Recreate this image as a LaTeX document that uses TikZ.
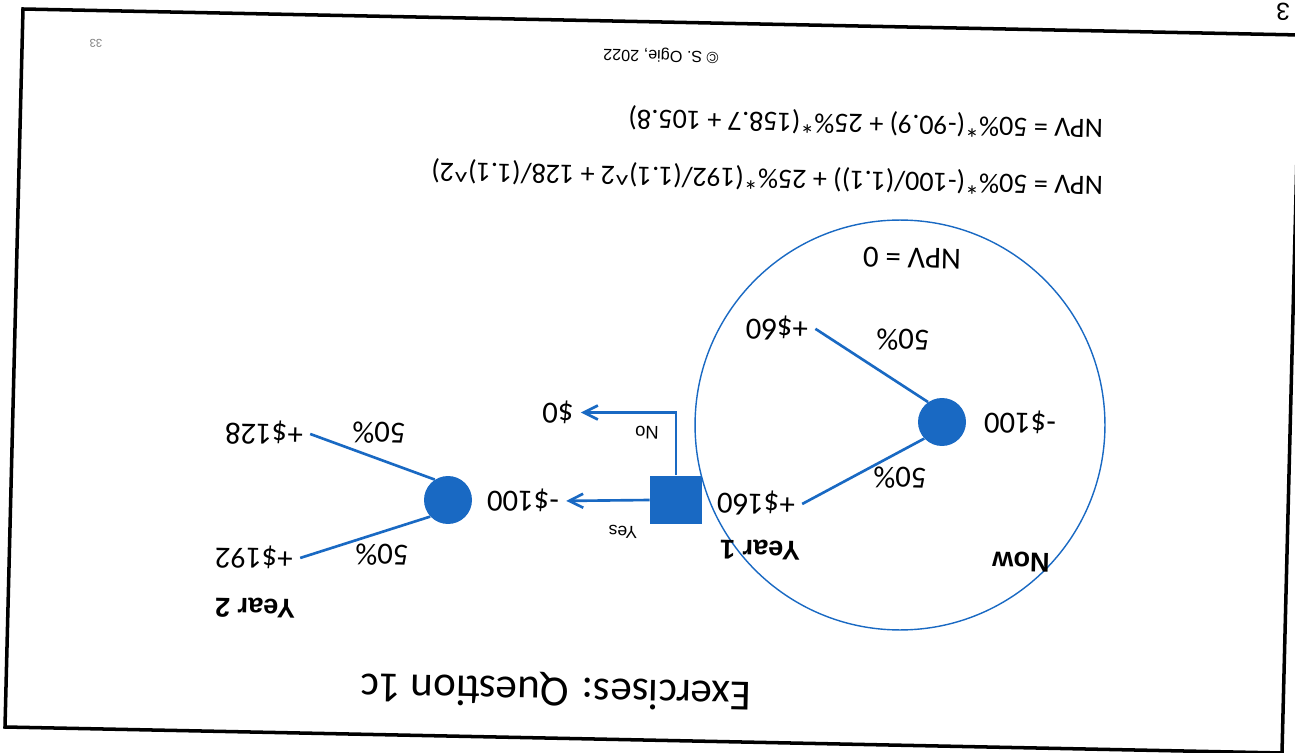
\documentclass[tikz,border=0pt]{standalone}
\usepackage{fontspec}
\setmainfont{Carlito}
\newfontfamily\arialfont{Liberation Sans}
\usetikzlibrary{arrows.meta}
\definecolor{treeblue}{RGB}{25,105,195}

\begin{document}
\begin{tikzpicture}[x = 0.02cm, y = -0.02cm,
  flip/.style = {rotate = 178.8, inner sep = 1pt},
  pay/.style = {flip, inner sep = 4pt, font = \fontsize{17.5}{20}\selectfont},
  prob/.style = {flip, font = \fontsize{17.5}{20}\selectfont},
  stage/.style = {flip, font = \arialfont\bfseries\fontsize{15.5}{18}\selectfont},
  formula/.style = {flip, anchor = west, font = \fontsize{16}{19}\selectfont},
  chance/.style = {circle, fill = treeblue, minimum size = 0.96cm, inner sep = 0pt},
  branch/.style = {treeblue, line width = 1.5pt},
  choice/.style = {branch, -{Straight Barb[length = 2.8mm, width = 2.8mm]}}]
\path [fill = white, use as bounding box] (0, 0) rectangle (1295, 753);
%\draw[very thin, color = gray](0, 0) grid [step = 50] (1295, 753);
\draw [line width = 2pt] (23, 9) -- (1300, 35) -- (1282, 753) -- (5, 727) -- cycle;
\node (pagemark) [flip, font = \arialfont\fontsize{14}{16}\selectfont] at (1283, 12) {3};
\node (pagenum) [flip, text = gray, font = \arialfont\fontsize{6.5}{7}\selectfont] at (96, 43) {33};
\node (owner) [flip, font = \arialfont\fontsize{9.2}{11}\selectfont] at (661, 55) {\textcopyright\ S. Ogie, 2022};
\node (title) [flip, font = \fontsize{24.5}{29}\selectfont] at (556, 690) {Exercises: Question 1c};
% the NPV working
\node (npvb) [formula] at (1105, 128) {NPV = 50\%*(-90.9) + 25\%*(158.7 + 105.8)};
\node (npva) [formula] at (1105, 185) {NPV = 50\%*(-100/(1.1)) + 25\%*(192/(1.1)\textasciicircum2 + 128/(1.1)\textasciicircum2)};
% first year
\node (nowring) [circle, draw = treeblue, line width = 0.8pt, minimum size = 8.2cm] at (900, 425) {};
\node (npvzero) [prob] at (912, 258) {NPV = 0};
\node (now) [stage] at (1021, 562) {Now};
\node (yearone) [stage] at (760, 550) {Year 1};
\node (cnow) [chance] at (942, 422) {};
\node (cost) [prob] at (1020, 422) {-\$100};
\node (p60) [pay] at (777, 328) {+\$60};
\node (p160) [pay] at (756, 503) {+\$160};
\node (qup) [prob] at (903, 340) {50\%};
\node (qdown) [prob] at (900, 478) {50\%};
\draw [branch] (cnow.125) -- (p60.west);
\draw [branch] (cnow.223) -- (p160.west);
% the choice
\node (decision) [rectangle, fill = treeblue, minimum width = 1.04cm, minimum height = 0.98cm] at (676, 500) {};
\node (yesval) [pay] at (523, 500) {-\$100};
\node (noval) [pay] at (558, 412) {\$0};
\node (yes) [flip, font = \arialfont\fontsize{10}{12}\selectfont] at (623, 532) {Yes};
\node (no) [flip, font = \arialfont\fontsize{10.5}{12}\selectfont] at (647, 433) {No};
\draw [choice] (decision.west) -- (yesval.west);
\draw [choice] (decision.north) |- (noval.west);
% second year
\node (yeartwo) [stage] at (255, 608) {Year 2};
\node (ctwo) [chance] at (448, 500) {};
\node (p128) [pay] at (264, 433) {+\$128};
\node (p192) [pay] at (254, 557) {+\$192};
\node (rup) [prob] at (379, 433) {50\%};
\node (rdown) [prob] at (382, 555) {50\%};
\draw [branch] (ctwo.123) -- (p128.west);
\draw [branch] (ctwo.223) -- (p192.west);
\end{tikzpicture}
\end{document}
